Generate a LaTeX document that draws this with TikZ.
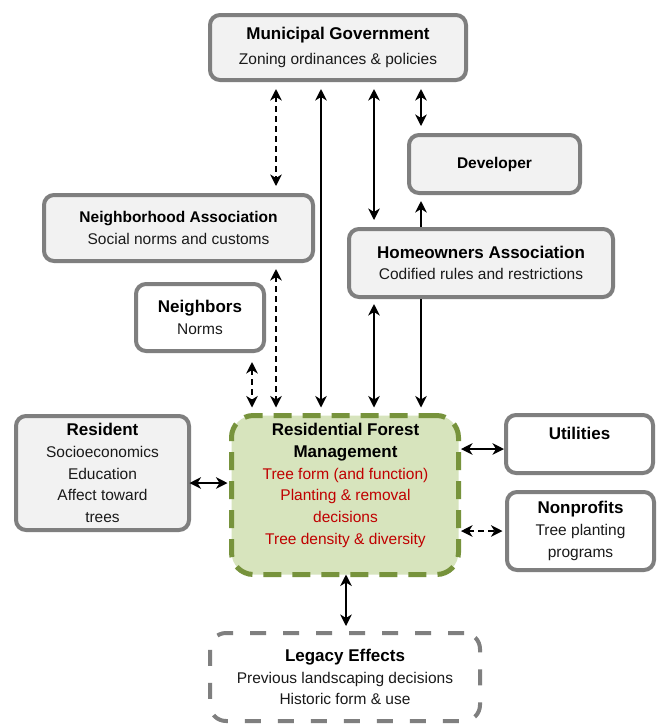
\documentclass[tikz,border=0pt]{standalone}
\usepackage{fontspec}
\setmainfont{Liberation Sans}
\usetikzlibrary{arrows.meta,calc}
\definecolor{boxgray}{HTML}{F2F2F2}
\definecolor{bordergray}{HTML}{7F7F7F}
\definecolor{rfmfill}{HTML}{D7E4BD}
\definecolor{rfmborder}{HTML}{77933C}
\definecolor{redtext}{HTML}{C00000}
\definecolor{subtext}{HTML}{1A1A1A}
\newcommand\mysubfont{\fontsize{15.5}{21.7}\selectfont}
\newcommand\mytitlefont{\fontsize{17}{21.7}\selectfont\bfseries\color{black}}
\newcommand\mytitlesmall{\fontsize{15.5}{21.7}\selectfont\bfseries\color{black}}
\tikzset{
  box/.style={draw=bordergray, line width=4pt, rounded corners=10pt, fill=boxgray,
    inner sep=0pt, align=center, font=\mysubfont, text=subtext},
  wbox/.style={box, fill=white},
  rfmbox/.style={draw=rfmborder, fill=rfmfill, line width=5pt, dash pattern=on 18pt off 11pt,
    rounded corners=22pt, inner sep=0pt},
  legbox/.style={draw=bordergray, fill=white, line width=4pt, dash pattern=on 16pt off 17pt,
    rounded corners=16pt, inner sep=0pt, align=center, font=\mysubfont, text=subtext},
  tip/.tip={Stealth[length=11.5pt,width=11.5pt,inset=3.5pt]},
  arr/.style={line width=1.7pt, -tip},
  darr/.style={line width=1.7pt, tip-tip},
  dsh/.style={dash pattern=on 6pt off 4pt},
}
\begin{document}
\begin{tikzpicture}[x=1pt,y=-1pt]
\useasboundingbox (0,0) rectangle (657,724);
\fill[white] (0,0) rectangle (657,724);

% boxes
\node[box, minimum width=256pt, minimum height=65pt] (muni) at (338,47.5)
  {{\mytitlefont Municipal Government}\\[4pt]Zoning ordinances \& policies};
\node[box, minimum width=171pt, minimum height=58pt] (dev) at (494.5,164)
  {{\mytitlesmall Developer}};
\node[box, minimum width=269pt, minimum height=66pt] (na) at (178.5,228)
  {{\mytitlesmall Neighborhood Association}\\Social norms and customs};
\node[box, minimum width=264pt, minimum height=68pt] (hoa) at (481,263)
  {{\mytitlefont Homeowners Association}\\Codified rules and restrictions};
\node[wbox, minimum width=128pt, minimum height=67pt] (nb) at (200,317.5)
  {{\mytitlefont Neighbors}\\Norms};
\node[box, minimum width=173pt, minimum height=114pt] (res) at (102.5,473)
  {{\mytitlefont Resident}\\Socioeconomics\\Education\\Affect toward\\trees};
\node[rfmbox, minimum width=227pt, minimum height=159pt] (rfm) at (345,495) {};
\node[align=center, font=\mysubfont, text=redtext, inner sep=0pt] (rfmtext) at (345.5,485.5)
  {{\mytitlefont Residential Forest}\\{\mytitlefont Management}\\Tree form (and function)\\Planting \& removal\\decisions\\Tree density \& diversity};
\node[wbox, minimum width=147pt, minimum height=58pt] (util) at (579.5,444) {};
\node[inner sep=0pt] (utiltext) at (579.5,433.5) {\mytitlefont Utilities};
\node[wbox, minimum width=147pt, minimum height=78pt] (np) at (580.5,531)
  {{\mytitlefont Nonprofits}\\Tree planting\\programs};
\node[legbox, minimum width=270pt, minimum height=88pt] (leg) at (345,677)
  {{\mytitlefont Legacy Effects}\\Previous landscaping decisions\\Historic form \& use};

% reference coordinates
\coordinate (x252) at (252,0);
\coordinate (x276) at (276,0);
\coordinate (x321) at (321,0);
\coordinate (x346) at (346,0);
\coordinate (x374) at (374,0);
\coordinate (x421) at (421,0);
\coordinate (y449) at (0,449);
\coordinate (y483) at (0,483);
\coordinate (y531) at (0,531);

% connectors
\draw[darr, dsh, shorten <=7pt, shorten >=7pt] (muni.south -| x276) -- (na.north -| x276);
\draw[darr, shorten <=7pt, shorten >=5.5pt] (muni.south -| x321) -- (rfm.north -| x321);
\draw[darr, shorten <=7pt, shorten >=7pt] (muni.south -| x374) -- (hoa.north -| x374);
\draw[darr, shorten <=7pt, shorten >=7pt] (muni.south -| x421) -- (dev.north -| x421);
\draw[arr, shorten >=6pt] (hoa.north -| x421) -- (dev.south -| x421);
\draw[darr, dsh, shorten <=6pt, shorten >=5.5pt] (na.south -| x276) -- (rfm.north -| x276);
\draw[darr, dsh, shorten <=9pt, shorten >=5.5pt] (nb.south -| x252) -- (rfm.north -| x252);
\draw[darr, shorten <=5pt, shorten >=5.5pt] (hoa.south -| x374) -- (rfm.north -| x374);
\draw[arr, shorten >=5.5pt] (hoa.south -| x421) -- (rfm.north -| x421);
\draw[darr, shorten <=-1.5pt, shorten >=1.5pt] (res.east |- y483) -- (rfm.west |- y483);
\draw[darr] (rfm.east |- y449) -- (util.west |- y449);
\draw[darr, dsh, shorten >=2.5pt] (rfm.east |- y531) -- (np.west |- y531);
\draw[darr, shorten <=-2.5pt, shorten >=5pt] (rfm.south -| x346) -- (leg.north -| x346);
\end{tikzpicture}
\end{document}
